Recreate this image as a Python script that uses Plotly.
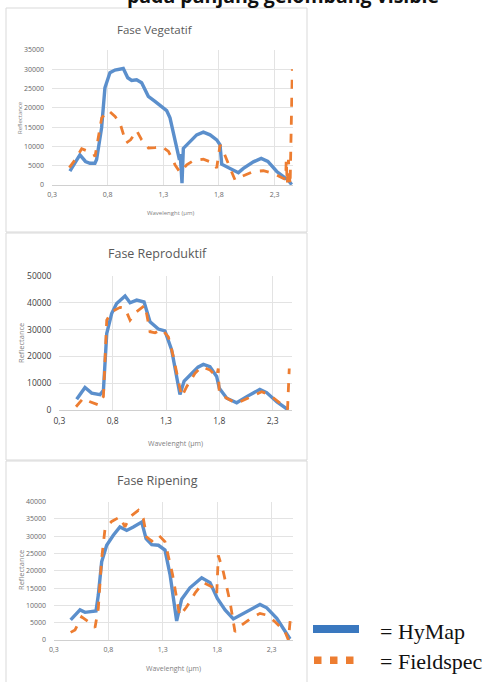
import plotly.graph_objects as go

W, H = 504, 682

# ---------------- data ----------------
veg_hymap_x = [0.46, 0.50, 0.55, 0.60, 0.64, 0.685, 0.70, 0.745, 0.775, 0.82, 0.865, 0.94, 0.98, 1.015, 1.06, 1.105,
               1.165, 1.225, 1.285, 1.33, 1.36, 1.43, 1.445, 1.452, 1.468, 1.48, 1.54, 1.60, 1.66, 1.72, 1.78, 1.81,
               1.825, 1.90, 1.975, 2.02, 2.11, 2.18, 2.24, 2.32, 2.42, 2.455]
veg_hymap_y = [3600, 5600, 7800, 6100, 5650, 5650, 6600, 14800, 25200, 29100, 29800, 30200, 27800, 27100, 27300, 26500,
               23000, 21700, 20400, 19300, 17400, 9100, 6500, 8000, 500, 9500, 11300, 13000, 13700, 13000, 11700, 10400,
               5400, 4200, 3200, 4300, 6000, 6900, 6100, 3500, 1300, 100]

veg_field_x = [0.455, 0.506, 0.566, 0.626, 0.671, 0.686, 0.716, 0.746, 0.806, 0.866, 0.91, 0.965, 1.006, 1.06, 1.106,
               1.166, 1.226, 1.286, 1.346, 1.406, 1.45, 1.51, 1.57, 1.66, 1.75, 1.78, 1.81, 1.84, 1.90, 1.945, 2.005,
               2.11, 2.20, 2.29, 2.38, 2.40, 2.405, 2.415, 2.425, 2.44, 2.46]
veg_field_y = [4500, 6500, 9400, 8700, 8200, 7400, 12200, 17400, 19300, 17800, 16100, 10900, 11700, 14100, 11700,
               9600, 9700, 10000, 8700, 5200, 3300, 5200, 6300, 6700, 5700, 4400, 10400, 8700, 4400, 1300, 2200,
               3500, 3700, 3000, 1700, 1500, 6500, 300, 6500, 0, 30000]

rep_hymap_x = [0.462, 0.54, 0.603, 0.681, 0.713, 0.744, 0.79, 0.837, 0.916, 0.963, 1.025, 1.094, 1.15, 1.228, 1.29,
               1.353, 1.431, 1.47, 1.52, 1.60, 1.65, 1.712, 1.775, 1.80, 1.87, 1.963, 2.057, 2.18, 2.244, 2.338, 2.447]
rep_hymap_y = [4000, 8400, 6300, 5700, 7400, 28500, 36000, 39700, 42500, 40000, 41000, 40300, 32900, 30200, 29500,
               22400, 5800, 10800, 12800, 16000, 17000, 16200, 12500, 8100, 4400, 2700, 5000, 7700, 6500, 3100, 0]

rep_field_x = [0.456, 0.525, 0.587, 0.665, 0.713, 0.744, 0.79, 0.869, 0.916, 0.963, 1.025, 1.103, 1.15, 1.197, 1.26,
               1.322, 1.369, 1.447, 1.494, 1.572, 1.634, 1.713, 1.775, 1.79, 1.80, 1.87, 1.963, 2.07, 2.197, 2.275,
               2.369, 2.44, 2.456]
rep_field_y = [1200, 4400, 3100, 1900, 5000, 33500, 36700, 38300, 37900, 33500, 36700, 39100, 29200, 28800, 30100,
               27300, 19900, 5000, 8700, 13700, 16200, 14900, 12400, 15500, 6200, 4400, 2500, 4400, 6800, 5600,
               2500, 250, 15500]

rip_hymap_x = [0.454, 0.54, 0.586, 0.632, 0.687, 0.708, 0.739, 0.785, 0.846, 0.907, 0.969, 1.03, 1.107, 1.147, 1.199,
               1.26, 1.321, 1.367, 1.428, 1.474, 1.55, 1.658, 1.735, 1.802, 1.873, 1.949, 2.041, 2.194, 2.256, 2.348,
               2.47]
rip_hymap_y = [5800, 8700, 8000, 8200, 8400, 13000, 22600, 27400, 30300, 32700, 31700, 32700, 34100, 29300, 27600,
               27400, 26000, 19000, 5500, 11800, 15100, 18000, 16600, 12000, 8700, 6100, 7700, 10300, 9300, 6300,
               300]

rip_field_x = [0.454, 0.494, 0.555, 0.617, 0.678, 0.708, 0.739, 0.77, 0.831, 0.907, 0.953, 0.999, 1.076, 1.122, 1.153,
               1.199, 1.26, 1.321, 1.39, 1.456, 1.52, 1.60, 1.673, 1.75, 1.796, 1.811, 1.857, 1.918, 1.964, 2.026,
               2.117, 2.194, 2.256, 2.332, 2.424, 2.455, 2.476]
rip_field_y = [2200, 2900, 6700, 5300, 3600, 9100, 23600, 32200, 34300, 35600, 32700, 35600, 37500, 35100, 29800,
               28600, 30400, 28400, 19000, 7000, 9600, 13700, 16600, 15400, 13200, 24500, 19700, 11100, 2400, 4300,
               6400, 7700, 7200, 5300, 2400, 0, 7200]

x_tickvals = [0.3, 0.8, 1.3, 1.8, 2.3]
x_ticktext = ["0,3", "0,8", "1,3", "1,8", "2,3"]
veg_yticks = [0, 5000, 10000, 15000, 20000, 25000, 30000, 35000]
rep_yticks = [0, 10000, 20000, 30000, 40000, 50000]
rip_yticks = [0, 5000, 10000, 15000, 20000, 25000, 30000, 35000, 40000]

panel_titles = ["Fase Vegetatif", "Fase Reproduktif", "Fase Ripening"]
x_title = "Wavelenght (µm)"
y_title = "Reflectance"
legend_labels = ["= HyMap", "= Fieldspec"]
top_title = "pada panjang gelombang visible"

BLUE = "#5b8fcc"
ORANGE = "#ed7d31"
GRID = "#e3e3e3"
TXT = "#595959"
FONT = "Open Sans"


def px(x):
    return x / W


def py(y):
    return 1 - y / H


# panel geometry (pixels): left, right, top, bottom of plot area; x max
panels = [
    dict(l=52.1, r=293.0, t=50.0, b=185.0, xmax=2.466, yt=veg_yticks, tf=7, tc="#666666"),
    dict(l=59.4, r=291.7, t=276.0, b=410.0, xmax=2.479, yt=rep_yticks, tf=8.5, tc="#404040"),
    dict(l=53.9, r=293.3, t=501.7, b=640.0, xmax=2.50, yt=rip_yticks, tf=7, tc="#6a6a6a"),
]

series = [
    (veg_hymap_x, veg_hymap_y, veg_field_x, veg_field_y),
    (rep_hymap_x, rep_hymap_y, rep_field_x, rep_field_y),
    (rip_hymap_x, rip_hymap_y, rip_field_x, rip_field_y),
]

fig = go.Figure()
layout = dict(
    width=W, height=H, margin=dict(l=0, r=0, t=0, b=0, autoexpand=False),
    paper_bgcolor="white", plot_bgcolor="white", showlegend=False,
    font=dict(family=FONT, color=TXT),
)

for i, (p, s) in enumerate(zip(panels, series)):
    n = "" if i == 0 else str(i + 1)
    xa, ya = "x" + n, "y" + n
    hx, hy, fx, fy = s
    fig.add_trace(go.Scatter(x=hx, y=hy, mode="lines", xaxis=xa, yaxis=ya,
                             line=dict(color=BLUE, width=3.4), name="HyMap"))
    fig.add_trace(go.Scatter(x=fx, y=fy, mode="lines", xaxis=xa, yaxis=ya,
                             line=dict(color=ORANGE, width=2.8, dash="dash"), name="Fieldspec"))
    ymax = p["yt"][-1]
    layout["xaxis" + n] = dict(
        domain=[px(p["l"]), px(p["r"])], anchor=ya, range=[0.3, p["xmax"]],
        tickvals=x_tickvals, ticktext=x_ticktext, showgrid=True, gridcolor=GRID, gridwidth=1,
        zeroline=False, showline=True, linecolor="#d0d0d0", linewidth=1, automargin=False,
        tickfont=dict(size=p["tf"], color=p["tc"], family=FONT), ticks="", ticklabelstandoff=3,
    )
    layout["yaxis" + n] = dict(
        domain=[py(p["b"]), py(p["t"])], anchor=xa, range=[0, ymax],
        tickvals=p["yt"], ticktext=[str(v) for v in p["yt"]], showgrid=True, gridcolor=GRID, gridwidth=1,
        zeroline=False, showline=False, automargin=False,
        tickfont=dict(size=p["tf"], color=p["tc"], family=FONT), ticks="", ticklabelstandoff=7,
    )

annotations = []
# panel titles
title_pos = [(155, 30, 11.5), (157, 253, 12.5), (157, 480, 12.5)]
for t, (cx, cy, fs) in zip(panel_titles, title_pos):
    annotations.append(dict(text=t, x=px(cx), y=py(cy), xref="paper", yref="paper", showarrow=False,
                            xanchor="center", yanchor="middle", font=dict(size=fs, color=TXT, family=FONT)))
# axis titles
xt_pos = [(170, 213, 6), (175, 443, 7), (173, 668, 7)]
for cx, cy, fs in xt_pos:
    annotations.append(dict(text=x_title, x=px(cx), y=py(cy), xref="paper", yref="paper", showarrow=False,
                            xanchor="center", yanchor="middle", font=dict(size=fs, color="#7f7f7f", family=FONT)))
yt_pos = [(20, 118, 6), (21, 343, 7.5), (21, 570, 7.5)]
for cx, cy, fs in yt_pos:
    annotations.append(dict(text=y_title, x=px(cx), y=py(cy), xref="paper", yref="paper", showarrow=False,
                            textangle=-90, xanchor="center", yanchor="middle",
                            font=dict(size=fs, color="#7f7f7f", family=FONT)))
# top title (cut off at the top edge in the reference)
annotations.append(dict(text="<b>" + top_title + "</b>", x=px(283), y=py(11), xref="paper", yref="paper",
                        showarrow=False, xanchor="center", yanchor="bottom",
                        font=dict(size=19.5, color="#111111", family=FONT)))
# legend texts
for lbl, cy in zip(legend_labels, [631, 661]):
    annotations.append(dict(text=lbl, x=px(378), y=py(cy), xref="paper", yref="paper", showarrow=False,
                            xanchor="left", yanchor="middle",
                            font=dict(size=22, color="#111111", family="Liberation Serif")))
layout["annotations"] = annotations

shapes = []
# panel borders
for y0, y1 in [(8, 232), (233, 460), (461, 700)]:
    shapes.append(dict(type="rect", xref="paper", yref="paper", x0=px(6), x1=px(307), y0=py(y1), y1=py(y0),
                       line=dict(color="#d9d9d9", width=1), fillcolor="rgba(0,0,0,0)", layer="below"))
# legend keys
shapes.append(dict(type="rect", xref="paper", yref="paper", x0=px(313), x1=px(359), y0=py(633), y1=py(625),
                   line=dict(width=0), fillcolor="#3a78bf"))
for x0 in [314, 330, 346]:
    shapes.append(dict(type="rect", xref="paper", yref="paper", x0=px(x0), x1=px(x0 + 7.5), y0=py(664), y1=py(656.5),
                       line=dict(width=0), fillcolor=ORANGE))
layout["shapes"] = shapes

fig.update_layout(**layout)
fig.write_html("out.html", config={"displayModeBar": False},
               post_script="document.body.style.margin='0';document.body.style.overflow='hidden';")
